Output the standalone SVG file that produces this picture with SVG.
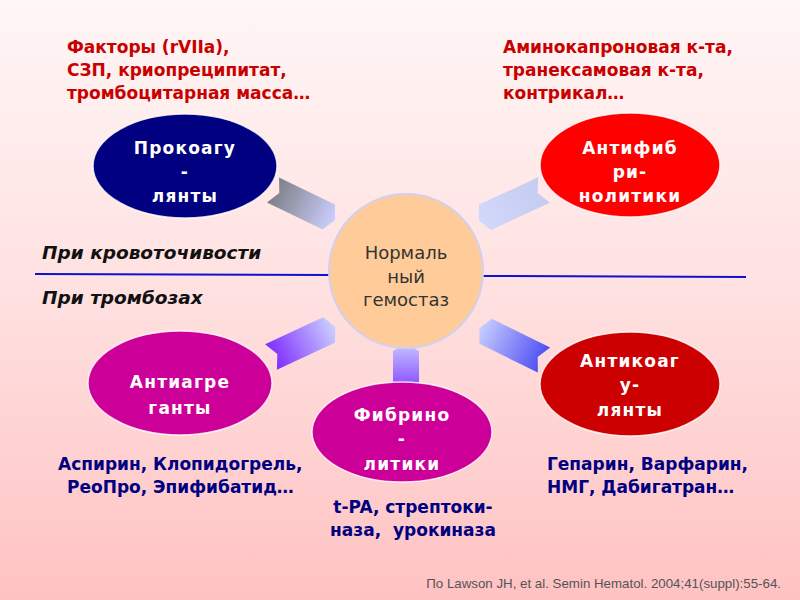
<svg xmlns="http://www.w3.org/2000/svg" width="800" height="600" viewBox="0 0 800 600">
  <defs>
    <linearGradient id="bg" x1="0" y1="0" x2="0" y2="1">
      <stop offset="0" stop-color="#fff6f6"/>
      <stop offset="0.5" stop-color="#ffe0e0"/>
      <stop offset="1" stop-color="#ffc2c2"/>
    </linearGradient>
    <linearGradient id="gTL" x1="0" y1="0" x2="1" y2="0">
      <stop offset="0" stop-color="#7f7f86"/>
      <stop offset="1" stop-color="#cccfff"/>
    </linearGradient>
    <linearGradient id="gTR" x1="0" y1="0" x2="1" y2="0">
      <stop offset="0" stop-color="#c4ccf0"/>
      <stop offset="1" stop-color="#d2d8fc"/>
    </linearGradient>
    <linearGradient id="gBL" x1="0" y1="0" x2="1" y2="0">
      <stop offset="0" stop-color="#7d2cff"/>
      <stop offset="1" stop-color="#ccd2ff"/>
    </linearGradient>
    <linearGradient id="gBR" x1="0" y1="0" x2="1" y2="0">
      <stop offset="0" stop-color="#4e4ef2"/>
      <stop offset="1" stop-color="#c8ceff"/>
    </linearGradient>
    <linearGradient id="gB" x1="0" y1="0" x2="1" y2="0">
      <stop offset="0" stop-color="#7f3cff"/>
      <stop offset="1" stop-color="#c4c4ff"/>
    </linearGradient>
  </defs>
  <style>
    .note { font-family: "DejaVu Sans", Verdana, sans-serif; font-weight: bold; font-size: 17px; }
    .red { fill: #c80000; }
    .navy { fill: #000080; }
    .side { font-family: "DejaVu Sans", Verdana, sans-serif; font-weight: bold; font-style: italic; font-size: 18.5px; fill: #111; }
    .lbl { font-family: "DejaVu Sans", Verdana, sans-serif; font-weight: bold; font-size: 17px; fill: #fff; text-anchor: middle; letter-spacing: 1.2px; }
    .ctr { font-family: "DejaVu Sans", Verdana, sans-serif; font-size: 18px; fill: #333; text-anchor: middle; }
    .node { stroke: #ffffff; stroke-width: 1.5; stroke-opacity: 0.8; }
    .cite { font-family: "Liberation Sans", Arial, sans-serif; font-size: 13.3px; fill: #555; text-anchor: end; }
  </style>
  <rect x="0" y="0" width="800" height="600" fill="url(#bg)"/>

  <!-- notes -->
  <g id="note-top-left" class="note red">
    <text x="67" y="53">Факторы (rVIIa),</text>
    <text x="67" y="76">СЗП, криопреципитат,</text>
    <text x="67" y="99">тромбоцитарная масса…</text>
  </g>
  <g id="note-top-right" class="note red">
    <text x="503" y="53">Аминокапроновая к-та,</text>
    <text x="503" y="76">транексамовая к-та,</text>
    <text x="503" y="99">контрикал…</text>
  </g>

  <!-- divider -->
  <g id="divider">
    <line x1="35" y1="274" x2="332" y2="275" stroke="#1010d0" stroke-width="2"/>
    <line x1="481" y1="276" x2="746" y2="277" stroke="#1010d0" stroke-width="2"/>
    <text class="side" x="42" y="259">При кровоточивости</text>
    <text class="side" x="42" y="304">При тромбозах</text>
  </g>

  <!-- connectors -->
  <g id="connectors">
    <polygon transform="translate(273,190) rotate(25.8)" points="0,-14 62,-14 69,0 62,14 0,14 7,0" fill="url(#gTL)"/>
    <polygon transform="translate(544,190) rotate(155.2)" points="0,-14 65,-14 72,0 65,14 0,14 7,0" fill="url(#gTR)"/>
    <polygon transform="translate(271,357) rotate(-25)" points="0,-14 64,-14 71,0 64,14 0,14 7,0" fill="url(#gBL)"/>
    <polygon transform="translate(544,360) rotate(-153.8)" points="0,-14 65,-14 72,0 65,14 0,14 7,0" fill="url(#gBR)"/>
    <polygon transform="translate(406,393) rotate(-90)" points="0,-13 42,-13 49,0 42,13 0,13 7,0" fill="url(#gB)"/>
  </g>

  <!-- center -->
  <g id="center">
    <circle cx="406" cy="271" r="77" fill="#ffcc99" stroke="#d0d0f0" stroke-width="2"/>
    <text class="ctr" x="406" y="259">Нормаль</text>
    <text class="ctr" x="406" y="283">ный</text>
    <text class="ctr" x="406" y="306">гемостаз</text>
  </g>

  <g id="procoag">
    <ellipse class="node" cx="185" cy="166" rx="92" ry="52" fill="#000080"/>
    <text class="lbl" x="185" y="154">Прокоагу</text>
    <text class="lbl" x="185" y="178">-</text>
    <text class="lbl" x="185" y="202">лянты</text>
  </g>

  <g id="antifib">
    <ellipse class="node" cx="630" cy="165" rx="90" ry="52" fill="#ff0000"/>
    <text class="lbl" x="630" y="154">Антифиб</text>
    <text class="lbl" x="630" y="178">ри-</text>
    <text class="lbl" x="630" y="202">нолитики</text>
  </g>

  <g id="antiagr">
    <ellipse class="node" cx="180" cy="383" rx="92" ry="52" fill="#cc0099"/>
    <text class="lbl" x="180" y="388">Антиагре</text>
    <text class="lbl" x="180" y="414">ганты</text>
  </g>

  <g id="fibrinol">
    <ellipse class="node" cx="402" cy="432" rx="90" ry="50" fill="#cc0099"/>
    <text class="lbl" x="402" y="421">Фибрино</text>
    <text class="lbl" x="402" y="445">-</text>
    <text class="lbl" x="402" y="470">литики</text>
  </g>

  <g id="anticoag">
    <ellipse class="node" cx="630" cy="384" rx="90" ry="52" fill="#cc0000"/>
    <text class="lbl" x="630" y="367">Антикоаг</text>
    <text class="lbl" x="630" y="391">у-</text>
    <text class="lbl" x="630" y="416">лянты</text>
  </g>

  <g id="note-antiagr" class="note navy">
    <text x="58" y="470">Аспирин, Клопидогрель,</text>
    <text x="67" y="493">РеоПро, Эпифибатид…</text>
  </g>
  <g id="note-fibrinol" class="note navy" text-anchor="middle">
    <text x="413" y="513">t-PA, стрептоки-</text>
    <text x="413" y="536">наза,&#160; урокиназа</text>
  </g>
  <g id="note-anticoag" class="note navy">
    <text x="547" y="470">Гепарин, Варфарин,</text>
    <text x="547" y="493">НМГ, Дабигатран…</text>
  </g>

  <text class="cite" x="781" y="588">По Lawson JH, et al. Semin Hematol. 2004;41(suppl):55-64.</text>
</svg>
